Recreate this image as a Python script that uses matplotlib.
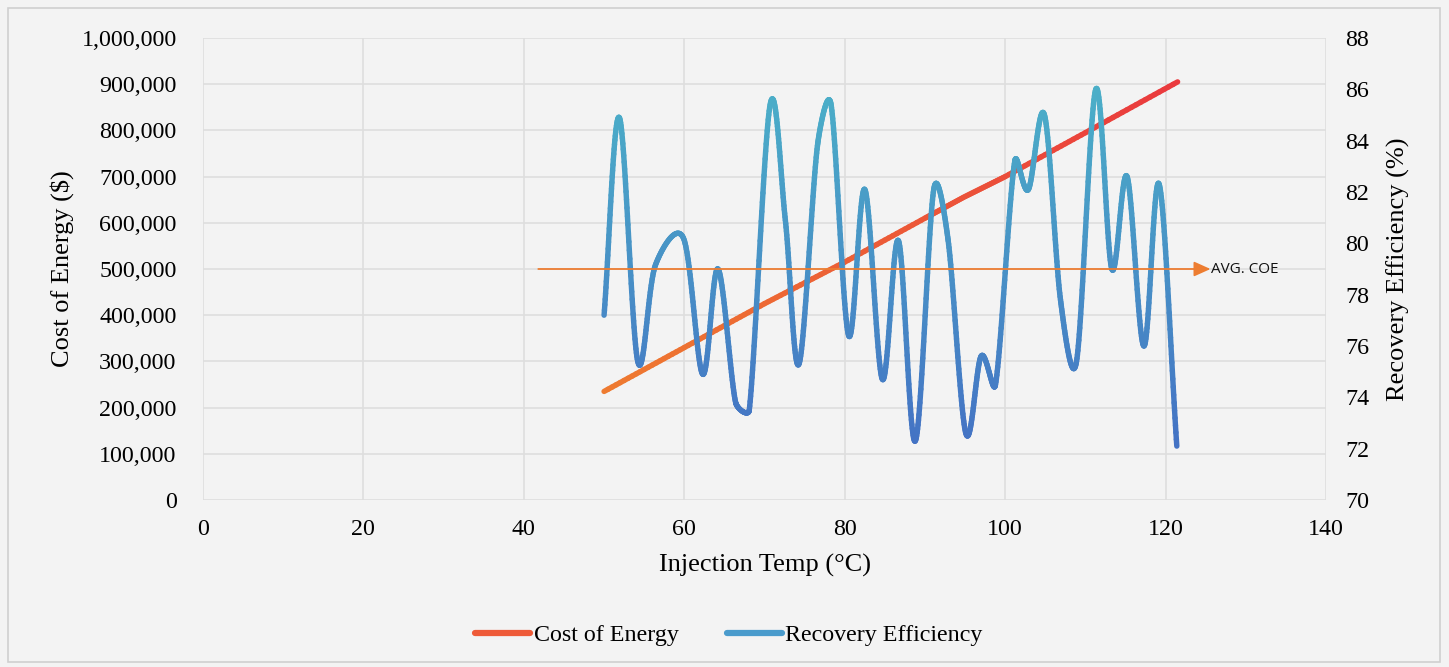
import numpy as np
import matplotlib
matplotlib.use("Agg")
import matplotlib.pyplot as plt
from matplotlib.collections import LineCollection
from matplotlib.lines import Line2D
from matplotlib.patches import Rectangle
from matplotlib.colors import to_rgb
from matplotlib.ticker import FuncFormatter

# ---------------- data ----------------
temp_cost = [50, 60, 70, 80, 90, 94.8, 100, 110, 121.5]
cost_energy = [235000, 330000, 425000, 515000, 610000, 655000, 700000, 795000, 905000]

temp_eff = [50, 51.9, 54.2, 56.4, 59.9, 62.3, 64.2, 66.4, 68.1, 70.7, 72.6, 74.3,
            76.6, 78.3, 80.5, 82.5, 84.7, 86.7, 88.8, 91.1, 92.9, 95.1, 97.0,
            98.8, 101.2, 102.9, 104.9, 106.9, 108.9, 111.3, 113.3, 115.2,
            117.3, 119.2, 121.4]
recovery_eff = [77.2, 84.9, 75.4, 79.15, 80.2, 74.9, 79.0, 73.8, 73.5, 85.4, 80.9, 75.3,
                83.8, 85.4, 76.4, 82.1, 74.7, 80.1, 72.3, 82.1, 80.1, 72.6, 75.6,
                74.5, 83.2, 82.1, 85.0, 77.8, 75.4, 86.0, 79.0, 82.6,
                76.0, 82.3, 72.1]

avg_coe = 500000
avg_x = [41.8, 125.6]

x_ticks = [0, 20, 40, 60, 80, 100, 120, 140]
left_ticks = list(range(0, 1000001, 100000))
right_ticks = list(range(70, 89, 2))

BG = "#f3f3f3"
GRID = "#dedede"
SERIF = "Liberation Serif"


def smooth(xs, ys, sx, sy, n=40, limit=0.45):
    """Excel-like smoothed line (Bezier with limited tangents) in scaled space."""
    P = np.column_stack([np.asarray(xs) / sx, np.asarray(ys) / sy])
    P = np.vstack([P[0] * 2 - P[1], P, P[-1] * 2 - P[-2]])
    out = []
    for i in range(1, len(P) - 2):
        p0, p1, p2, p3 = P[i - 1], P[i], P[i + 1], P[i + 2]
        seg = np.linalg.norm(p2 - p1)
        t1 = (p2 - p0) / 6.0
        t2 = (p3 - p1) / 6.0
        n1, n2 = np.linalg.norm(t1), np.linalg.norm(t2)
        if n1 > limit * seg:
            t1 = t1 * limit * seg / n1
        if n2 > limit * seg:
            t2 = t2 * limit * seg / n2
        c1 = p1 + t1
        c2 = p2 - t2
        t = np.linspace(0, 1, n, endpoint=False)[:, None]
        pts = ((1 - t) ** 3) * p1 + 3 * ((1 - t) ** 2) * t * c1 + 3 * (1 - t) * t ** 2 * c2 + t ** 3 * p2
        out.append(pts)
    out.append(P[-2][None, :])
    out = np.vstack(out)
    return out[:, 0] * sx, out[:, 1] * sy


def grad_collection(x, y, vals, vmin, vmax, c0, c1, lw):
    pts = np.column_stack([x, y]).reshape(-1, 1, 2)
    segs = np.concatenate([pts[:-1], pts[1:]], axis=1)
    v = (np.asarray(vals[:-1]) + np.asarray(vals[1:])) / 2
    f = np.clip((v - vmin) / (vmax - vmin), 0, 1)[:, None]
    a, b = np.array(to_rgb(c0)), np.array(to_rgb(c1))
    cols = a * (1 - f) + b * f
    return LineCollection(segs, colors=cols, linewidths=lw, capstyle="round", joinstyle="round")


fig = plt.figure(figsize=(14.49, 6.67), dpi=100, facecolor=BG)
fig.patches.append(Rectangle((8 / 1449, 1 - 662 / 667), 1432 / 1449, 654 / 667,
                             transform=fig.transFigure, fill=False, edgecolor="#d0d0d0", lw=1.2))

ax = fig.add_axes([203 / 1449, 1 - 500 / 667, 1123 / 1449, 462 / 667])
ax.set_facecolor(BG)
ax2 = ax.twinx()

ax.set_xlim(0, 140)
ax.set_ylim(0, 1000000)
ax2.set_ylim(70, 88)

ax.set_xticks(x_ticks)
ax.set_yticks(left_ticks)
ax2.set_yticks(right_ticks)
ax.yaxis.set_major_formatter(FuncFormatter(lambda v, p: f"{int(v):,}"))
ax.grid(True, color=GRID, lw=1.2)
ax.set_axisbelow(True)
for a in (ax, ax2):
    for s in a.spines.values():
        s.set_visible(False)
    a.tick_params(length=0, labelsize=17.3)
    for lab in a.get_xticklabels() + a.get_yticklabels():
        lab.set_fontfamily(SERIF)
ax.tick_params(axis="y", pad=19)
ax.tick_params(axis="x", pad=14)
ax2.tick_params(axis="y", pad=14)

ax.set_xlabel("Injection Temp (°C)", fontfamily=SERIF, fontsize=19, labelpad=10)
ax.set_ylabel("Cost of Energy ($)", fontfamily=SERIF, fontsize=19, labelpad=5)
ax2.set_ylabel("Recovery Efficiency (%)", fontfamily=SERIF, fontsize=19, labelpad=12)

# Cost of energy (gradient orange -> red)
cx, cy = np.array(temp_cost, float), np.array(cost_energy, float)
xx = np.concatenate([np.linspace(cx[i], cx[i + 1], 20, endpoint=False) for i in range(len(cx) - 1)] + [cx[-1:]])
yy = np.interp(xx, cx, cy)
lc = grad_collection(xx, yy, xx, 50, 121.5, "#ee7b30", "#ea3a3e", 3.9)
lc.set_zorder(2)
ax.add_collection(lc)

# Recovery efficiency (smoothed, gradient blue)
ex, ey = smooth(temp_eff, recovery_eff, 140 / 1123, 18 / 462)
lc2 = grad_collection(ex, ey, ey, 72, 86, "#4472c4", "#4bafc8", 3.9)
lc2.set_zorder(3)
ax2.add_collection(lc2)

# Average COE arrow
ax2.annotate("", xy=(avg_x[1], 79.0), xytext=(avg_x[0], 79.0),
             arrowprops=dict(arrowstyle="-|>,head_length=1.0,head_width=0.45",
                             color="#ed7d31", lw=1.3, shrinkA=0, shrinkB=0),
             zorder=6)
ax2.text(avg_x[1] + 0.05, 79.0, "AVG. COE", fontfamily="Open Sans", fontsize=11,
         va="center", ha="left", color="#111111", zorder=6)

# Legend
h1 = Line2D([], [], color="#ee5a38", lw=4.5, solid_capstyle="round")
h2 = Line2D([], [], color="#4a9bcc", lw=4.5, solid_capstyle="round")
fig.legend([h1, h2], ["Cost of Energy", "Recovery Efficiency"], loc="center",
           bbox_to_anchor=(0.503, 1 - 635 / 667), ncol=2, frameon=False,
           prop={"family": SERIF, "size": 17.3}, handlelength=2.3, handletextpad=0.15,
           columnspacing=2.0)

fig.savefig("out.png", dpi=100, facecolor=BG)
